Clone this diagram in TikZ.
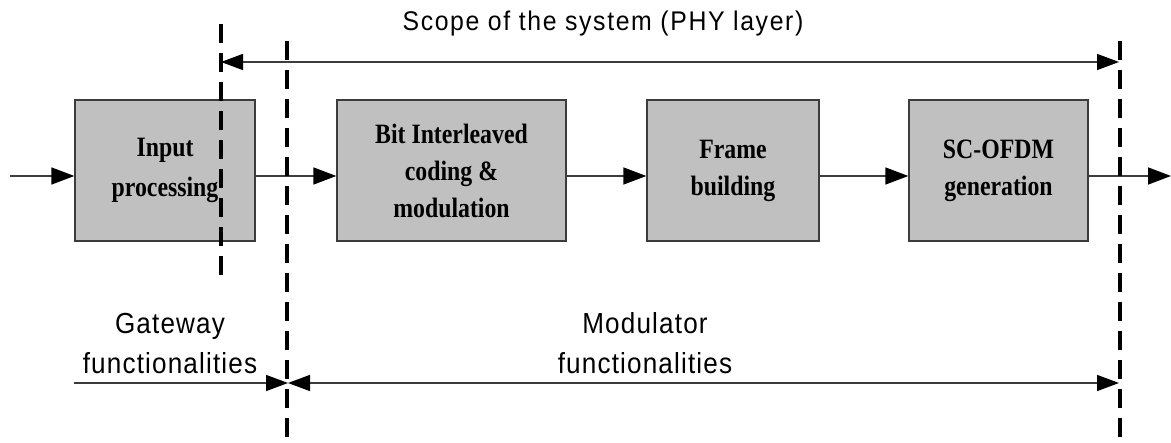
\documentclass[tikz,border=0pt]{standalone}
\usepackage{fontspec}
\usetikzlibrary{arrows.meta}
\newfontfamily\scopefont[FakeStretch=0.92,LetterSpace=6]{Liberation Sans}
\newfontfamily\gwfont[FakeStretch=0.9,LetterSpace=4]{Liberation Sans}
\newfontfamily\boxfont[FakeStretch=0.85]{Liberation Serif}
\definecolor{boxgray}{RGB}{192,192,192}
\definecolor{linegray}{RGB}{60,60,60}
\begin{document}
\begin{tikzpicture}[x=1pt,y=-1pt,
  blk/.style={draw=linegray,line width=1.3pt,fill=boxgray,minimum height=141pt,inner sep=0pt,align=center,
    font=\boxfont\bfseries\fontsize{28}{37}\selectfont},
  flow/.style={draw=linegray,line width=1.5pt,-{Triangle[length=23pt,width=17pt,color=black]}},
  dim/.style={draw=linegray,line width=1.5pt},
  tipr/.style={-{Triangle[length=22pt,width=16pt,color=black]}},
  tipb/.style={{Triangle[length=22pt,width=16pt,color=black]}-{Triangle[length=22pt,width=16pt,color=black]}},
  bound/.style={line width=4pt,dash pattern=on 19pt off 10pt},
  lbl/.style={inner sep=0pt,align=center,font=\gwfont\fontsize{29}{40}\selectfont}
]
\useasboundingbox (0,0) rectangle (1171,443);

% boxes
\node[blk,minimum width=180pt] (ip) at (165,170.5) {Input\\[3pt]processing};
\node[blk,minimum width=229pt] (bi) at (451.5,170.5) {Bit Interleaved\\coding \&\\modulation};
\node[blk,minimum width=172pt] (fb) at (733,170.5) {Frame\\building};
\node[blk,minimum width=179pt] (sc) at (998.5,170.5) {SC-OFDM\\generation};

% flow
\coordinate (in) at (10,176);
\coordinate (out) at (1171,176);
\draw[flow] (in) -- (in -| ip.west);
\draw[flow] ([yshift=-5.5pt]ip.east) -- ([yshift=-5.5pt]bi.west);
\draw[flow] ([yshift=-5.5pt]bi.east) -- ([yshift=-5.5pt]fb.west);
\draw[flow] ([yshift=-5.5pt]fb.east) -- ([yshift=-5.5pt]sc.west);
\draw[flow] ([yshift=-5.5pt]sc.east) -- (out);

% boundaries
\coordinate (d1t) at (221,24);  \coordinate (d1b) at (221,276);
\coordinate (d2t) at (287,41);  \coordinate (d2b) at (287,443);
\coordinate (d3t) at (1120,41); \coordinate (d3b) at (1120,443);
\draw[bound] (d1t) -- (d1b);
\draw[bound] (d2t) -- (d2b);
\draw[bound] (d3t) -- (d3b);

% scope
\coordinate (sl) at (221,62);
\coordinate (sr) at (1119,62);
\draw[dim,tipb] (sl) -- (sr);
\node[anchor=base,inner sep=0pt,font=\scopefont\fontsize{27}{30}\selectfont] (scope) at (603,31) {Scope of the system (PHY layer)};

% functionalities
\coordinate (gl) at (74,383);
\coordinate (gr) at (288,383);
\coordinate (ml) at (288,383);
\coordinate (mr) at (1119,383);
\draw[dim,tipr] (gl) -- (gr);
\draw[dim,tipb] (ml) -- (mr);
\node[lbl,anchor=south] (gw) at (170,374) {Gateway\\functionalities};
\node[lbl,anchor=south] (mod) at (645,374) {Modulator\\functionalities};
\end{tikzpicture}
\end{document}
